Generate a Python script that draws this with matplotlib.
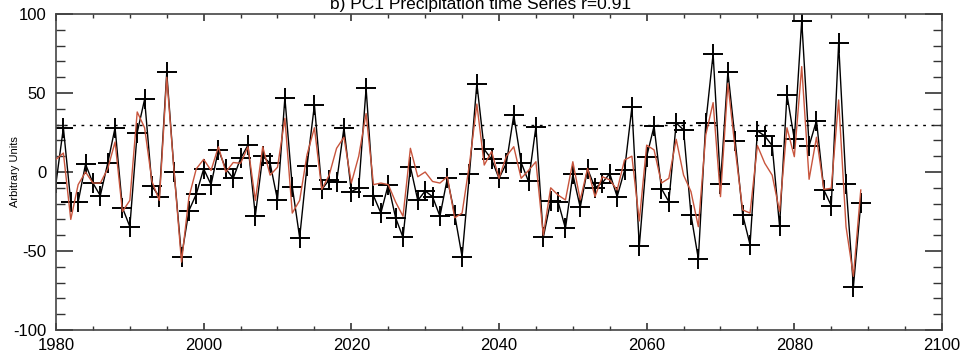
import numpy as np
import matplotlib
matplotlib.use("Agg")
import matplotlib.pyplot as plt
from matplotlib.ticker import MultipleLocator

plt.rcParams["font.family"] = ["Liberation Sans", "DejaVu Sans"]
plt.rcParams["axes.unicode_minus"] = False

# PC1 precipitation time series, 1980-2089
years = np.arange(1980, 2090)

# black: series with + markers
pc_black = [
    -7, 28, -19, -19, 5, -7, -15, 5.5, 28, -22.6,
    -34.6, 25, 46, -9, -15.6, 63, 0, -53.6, -24.5, -14,
    2, -8, 14, 2, -4, 8.6, 17, -27.6, 10, 5.5,
    -17.7, 47, -9.3, -41.5, 3.8, 42.4, -11, -5, -6.5, 28,
    -12.4, -10, 53, -15, -26, -8, -29, -41.4, 3.4, -18,
    -12, -15.6, -28, -4, -27, -53.6, -1, 56, 14.3, 8,
    -4, 5.5, 36, 6, -6, 28.7, -41.4, -18.4, -18.8, -35.7,
    -1.5, -22.4, 2, -10, -6.8, -1, -15.6, 1, 41, -47,
    9.7, 29, -10.5, -18.8, 31, 26.6, -27, -55, 30.8, 74.7,
    -7.4, 63.5, 19.6, -27, -46, 26, 22.8, 16.7, -34.3, 49,
    20.7, 95.8, 16.5, 32.5, -11.4, -21.3, 81.4, -7.6, -72.6, -19.8,
]

# red: reconstructed series
pc_red = [
    8, 12, -30, -8, 0, -7, -7, 2, 19, -25,
    -18, 38, 28, -6, -18, 60, 0, -57, -16, 2,
    8, 1, 16, 0, 6, 5.5, 16, -18, 16, -2,
    3, 34, -26, -18, 11, 28, -11, -2, 15, 22,
    -7, 10, 37, -8, -7, -8, -19, -28, 15, -3,
    0, -6, -7, -3, -29, -26, 5, 43, 4.4, 13,
    -4, 10, 16, -4, 1, 6.5, -40, -10, -14.6, -17.7,
    6.5, -17.7, 2.3, -15.6, -3, -5, -11.4, 7.6, 10, -31,
    17, 14, -7, -4, 20.7, -2, -12.4, -34.6, 23.4, 43.9,
    -15.6, 56, 14, -24, -26, 16.7, 5.5, -2, -25, 28,
    9.7, 66.7, -4.6, 22, -11, -10.3, 45.6, -34.6, -66, -11.4,
]

threshold = 30
title = "b) PC1 Precipitation time Series r=0.91"

fig = plt.figure(figsize=(9.62, 3.54), dpi=100)
ax = fig.add_axes([56 / 962, 24 / 354, 886 / 962, 316 / 354])

ax.axhline(threshold, color="black", lw=1.0, ls=(0, (2, 4)), zorder=1)
ax.plot(years, pc_black, color="black", lw=1.0, marker="+",
        markersize=14, markeredgewidth=1.4, zorder=2)
ax.plot(years, pc_red, color="#c8553d", lw=1.0, zorder=3)

ax.set_xlim(1980, 2100)
ax.set_ylim(-100, 100)
ax.xaxis.set_major_locator(MultipleLocator(20))
ax.xaxis.set_minor_locator(MultipleLocator(5))
ax.yaxis.set_major_locator(MultipleLocator(50))
ax.yaxis.set_minor_locator(MultipleLocator(10))

ax.tick_params(axis="both", which="both", direction="in",
               top=True, right=True, color="#333333", labelsize=12)
ax.tick_params(axis="y", which="major", length=12, width=1.2, pad=7)
ax.tick_params(axis="y", which="minor", length=6.5, width=1.0)
ax.tick_params(axis="x", which="major", length=5, width=1.2, pad=6)
ax.tick_params(axis="x", which="minor", length=3, width=1.0)
for s in ax.spines.values():
    s.set_color("#444444")
    s.set_linewidth(1.2)

ax.set_ylabel("Arbitrary Units", fontsize=8)
ax.yaxis.set_label_coords(-0.0406, 0.5)
fig.text(0.5, 1 - 9 / 354, title, ha="center", va="baseline", fontsize=12.5)

fig.savefig("out.png", dpi=100)
